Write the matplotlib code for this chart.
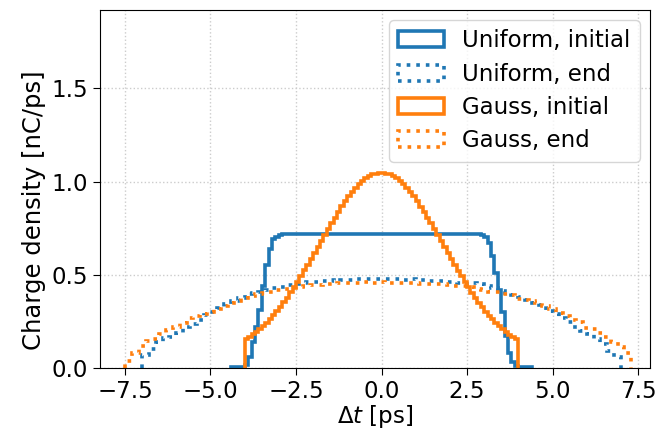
import numpy as np
import matplotlib
matplotlib.use("Agg")
import matplotlib.pyplot as plt
from matplotlib.patches import Patch

# ---- data ----
# Uniform, initial: bins of 0.1 ps starting at -4.4 ps
uni_init_start = -4.4
uni_init_width = 0.1
uni_init = [
    0.003, 0.004, 0.005, 0.007, 0.015, 0.06, 0.14, 0.22, 0.31, 0.44,
    0.55, 0.64, 0.69, 0.705, 0.712,
    0.716, 0.718, 0.717, 0.719, 0.716, 0.718, 0.720, 0.717, 0.716, 0.719,
    0.718, 0.717, 0.720, 0.718, 0.716, 0.719, 0.717, 0.718, 0.720, 0.717,
    0.716, 0.719, 0.718, 0.720, 0.717, 0.718, 0.716, 0.719, 0.717, 0.718,
    0.720, 0.717, 0.719, 0.716, 0.718, 0.717, 0.720, 0.718, 0.716, 0.719,
    0.717, 0.718, 0.720, 0.716, 0.719, 0.717, 0.718, 0.716, 0.719, 0.717,
    0.718, 0.720, 0.717, 0.719, 0.716, 0.718, 0.717, 0.716,
    0.712, 0.70, 0.67, 0.60, 0.51, 0.42, 0.30, 0.17, 0.08, 0.03,
    0.012, 0.007, 0.005, 0.004, 0.003,
]

# Gauss, initial: bins of 0.1 ps starting at -4.0 ps
gauss_init_start = -4.0
gauss_init_width = 0.1
gauss_init = [
    0.157, 0.168, 0.180, 0.194, 0.209, 0.225, 0.243, 0.262, 0.282, 0.304,
    0.327, 0.352, 0.378, 0.405, 0.433, 0.462, 0.492, 0.523, 0.554, 0.586,
    0.618, 0.650, 0.682, 0.714, 0.746, 0.777, 0.807, 0.838, 0.867, 0.895,
    0.922, 0.946, 0.968, 0.988, 1.004, 1.018, 1.030, 1.038, 1.043, 1.045,
    1.046, 1.043, 1.038, 1.029, 1.017, 1.003, 0.987, 0.967, 0.945, 0.921,
    0.894, 0.866, 0.837, 0.807, 0.776, 0.745, 0.713, 0.681, 0.649, 0.617,
    0.585, 0.553, 0.522, 0.491, 0.461, 0.432, 0.404, 0.377, 0.351, 0.326,
    0.303, 0.281, 0.261, 0.242, 0.224, 0.208, 0.193, 0.179, 0.167, 0.158,
]

# Uniform, end: bins of 0.2 ps starting at -7.0 ps
uni_end_start = -7.0
uni_end_width = 0.2
uni_end = [
    0.07, 0.10, 0.14, 0.16, 0.165, 0.19, 0.22, 0.235, 0.26, 0.285,
    0.30, 0.32, 0.345, 0.36, 0.375, 0.395, 0.40, 0.41, 0.42, 0.43,
    0.435, 0.445, 0.45, 0.455, 0.46, 0.462, 0.467, 0.47, 0.468, 0.474,
    0.472, 0.476, 0.478, 0.475, 0.48,
    0.478, 0.476, 0.479, 0.474, 0.475, 0.471, 0.47, 0.468, 0.466, 0.462,
    0.46, 0.456, 0.452, 0.455, 0.448, 0.44, 0.43, 0.415, 0.40, 0.39,
    0.38, 0.365, 0.35, 0.34, 0.305, 0.29, 0.27, 0.245, 0.22, 0.20,
    0.18, 0.155, 0.13, 0.09, 0.06,
]

# Gauss, end: bins of 0.2 ps starting at -7.5 ps
gauss_end_start = -7.5
gauss_end_width = 0.2
gauss_end = [
    0.04, 0.08, 0.12, 0.145, 0.155, 0.18, 0.205, 0.222, 0.24, 0.268,
    0.28, 0.29, 0.30, 0.316, 0.33, 0.348, 0.36, 0.375, 0.384, 0.395,
    0.40, 0.41, 0.418, 0.425, 0.43, 0.436, 0.44, 0.443, 0.447, 0.45,
    0.452, 0.455, 0.454, 0.457, 0.456, 0.459, 0.457, 0.46, 0.458, 0.456,
    0.457, 0.455, 0.456, 0.453, 0.452, 0.45, 0.448, 0.445, 0.442, 0.438,
    0.432, 0.426, 0.42, 0.41, 0.405, 0.397, 0.39, 0.368, 0.366, 0.362,
    0.348, 0.33, 0.315, 0.295, 0.28, 0.26, 0.245, 0.215, 0.208, 0.19,
    0.168, 0.14, 0.11, 0.08,
]

labels = ["Uniform, initial", "Uniform, end", "Gauss, initial", "Gauss, end"]


def edges(start, width, vals):
    return start + width * np.arange(len(vals) + 1)


plt.rcParams["font.family"] = ["DejaVu Sans"]
plt.rcParams["font.size"] = 16.5

fig = plt.figure(figsize=(6.61, 4.30), dpi=100)
ax = fig.add_axes([0.1513, 0.1442, 0.8321, 0.8325])

lw = 2.6
series = [
    (uni_init, uni_init_start, uni_init_width, "C0", "-"),
    (uni_end, uni_end_start, uni_end_width, "C0", ":"),
    (gauss_init, gauss_init_start, gauss_init_width, "C1", "-"),
    (gauss_end, gauss_end_start, gauss_end_width, "C1", ":"),
]
handles = []
for (vals, st, wd, col, ls), lab in zip(series, labels):
    ax.stairs(vals, edges(st, wd, vals), color=col, lw=lw, ls=ls)
    handles.append(Patch(facecolor="none", edgecolor=col, lw=lw, ls=ls,
                         label=lab))

ax.set_xlim(-8.23, 7.85)
ax.set_ylim(0, 1.92)
ax.set_xticks([-7.5, -5.0, -2.5, 0.0, 2.5, 5.0, 7.5])
ax.set_yticks([0.0, 0.5, 1.0, 1.5])
ax.grid(True, ls=":", color="#cccccc", lw=1.0)
ax.set_axisbelow(True)
ax.set_xlabel(r"$\Delta t$ [ps]", labelpad=0)
ax.set_ylabel("Charge density [nC/ps]", fontsize=17.5)
ax.yaxis.set_label_coords(-0.098, 0.44)
ax.tick_params(length=5)

ax.legend(handles=handles, loc="upper right", fontsize=16.5, framealpha=0.8,
          borderaxespad=0.45, handlelength=2.0, labelspacing=0.45)

fig.savefig("out.png", dpi=100)
